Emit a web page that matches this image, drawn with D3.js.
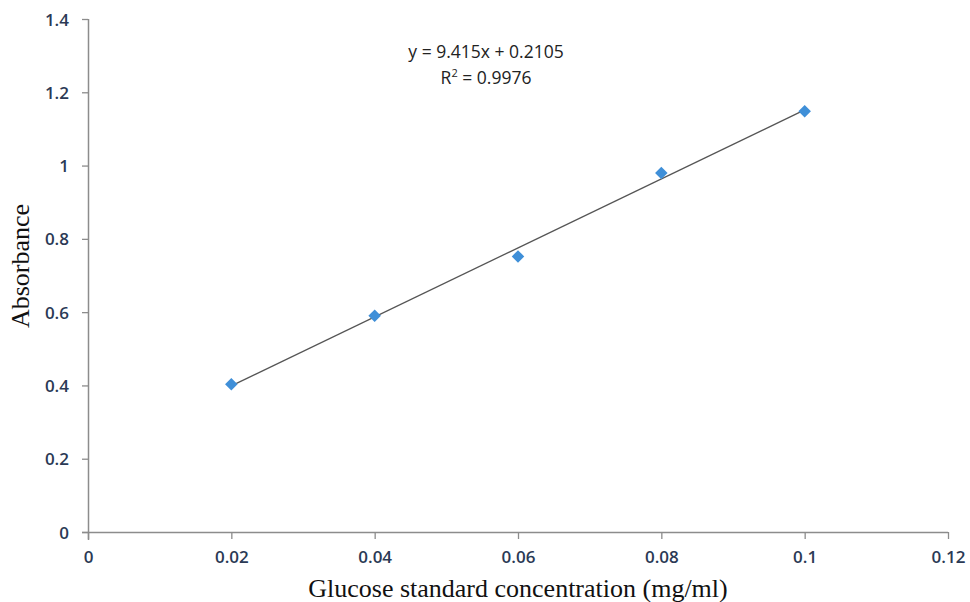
<!DOCTYPE html>
<html><head><meta charset="utf-8">
<script src="https://cdn.jsdelivr.net/npm/d3@7"></script>
<style>body{margin:0;background:#fff}</style>
</head><body>
<svg id="c" width="970" height="602"></svg>
<script>
const concentration = [0.02, 0.04, 0.06, 0.08, 0.1];
const absorbance = [0.403, 0.59, 0.752, 0.98, 1.148];
const xTicks = [0, 0.02, 0.04, 0.06, 0.08, 0.1, 0.12];
const yTicks = [0, 0.2, 0.4, 0.6, 0.8, 1, 1.2, 1.4];
const slope = 9.415, intercept = 0.2105;
const eqText = "y = 9.415x + 0.2105";
const r2Value = "0.9976";

const svg = d3.select("#c");
const x = d3.scaleLinear().domain([0, 0.12]).range([88, 948]);
const y = d3.scaleLinear().domain([0, 1.4]).range([532, 19]);
const axisColor = "#8c8c8c";
const tickFont = "'Open Sans', 'Liberation Sans', sans-serif";
const serif = "'Liberation Serif', 'DejaVu Serif', serif";

const xAxis = svg.append("g").attr("transform", "translate(0,532)")
  .call(d3.axisBottom(x).tickValues(xTicks).tickFormat(d => String(+d.toFixed(2))).tickSize(7).tickSizeOuter(0));
const yAxis = svg.append("g").attr("transform", "translate(88,0)")
  .call(d3.axisLeft(y).tickValues(yTicks).tickFormat(d => String(+d.toFixed(1))).tickSize(6).tickSizeOuter(0));
[xAxis, yAxis].forEach(a => {
  a.select(".domain").attr("stroke", axisColor).attr("stroke-width", 1.5);
  a.selectAll(".tick line").attr("stroke", axisColor).attr("stroke-width", 1.3);
  a.selectAll("text").attr("fill", "#2b3a55").style("font-family", tickFont)
    .style("font-size", "17px").style("font-weight", "600");
});
xAxis.select(".domain").attr("d", "M82,0.5H948");
yAxis.select(".domain").attr("d", "M0.5,19V540");
xAxis.selectAll("text").attr("dy", "0").attr("y", 31);
yAxis.selectAll("text").attr("x", -19).attr("dy", "0.36em");

// trendline
svg.append("line")
  .attr("x1", x(concentration[0])).attr("y1", y(slope * concentration[0] + intercept))
  .attr("x2", x(concentration[concentration.length - 1])).attr("y2", y(slope * concentration[concentration.length - 1] + intercept))
  .attr("stroke", "#555").attr("stroke-width", 1.3);

// points
svg.selectAll("path.pt").data(concentration).join("path").attr("class", "pt")
  .attr("d", d3.symbol().type(d3.symbolDiamond2).size(100))
  .attr("transform", (d, i) => `translate(${x(d)},${y(absorbance[i])})`)
  .attr("fill", "#3f8fd8");

// equation
const eqStyle = s => s.attr("text-anchor", "middle").style("font-family", tickFont)
  .style("font-size", "17.5px").style("font-weight", "500").attr("fill", "#222");
svg.append("text").attr("x", 486).attr("y", 58).call(eqStyle).text(eqText);
const r2 = svg.append("text").attr("x", 486).attr("y", 84).call(eqStyle);
r2.append("tspan").text("R");
r2.append("tspan").attr("dy", "-7").style("font-size", "11px").text("2");
r2.append("tspan").attr("dy", "7").text(" = " + r2Value);

// axis titles
svg.append("text").attr("x", 518).attr("y", 597).attr("text-anchor", "middle")
  .style("font-family", serif).style("font-size", "26px").attr("fill", "#111")
  .text("Glucose standard concentration (mg/ml)");
svg.append("text").attr("transform", "translate(29,266) rotate(-90)").attr("text-anchor", "middle")
  .style("font-family", serif).style("font-size", "26px").attr("fill", "#111")
  .text("Absorbance");
</script>
</body></html>
